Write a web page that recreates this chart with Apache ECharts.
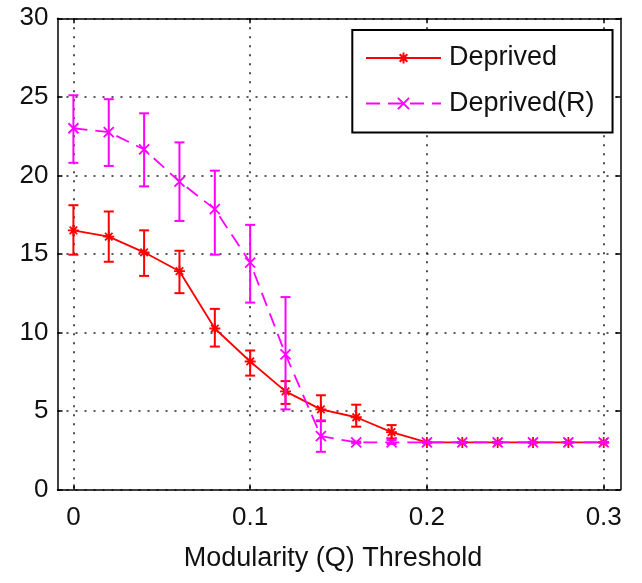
<!DOCTYPE html>
<html><head><meta charset="utf-8">
<script src="https://cdn.jsdelivr.net/npm/echarts@6/dist/echarts.min.js"></script>
<style>html,body{margin:0;padding:0;background:#fff}#c{width:642px;height:583px}</style>
</head><body><div id="c"></div>
<script>
const xValues = [0, 0.02, 0.04, 0.06, 0.08, 0.10, 0.12, 0.14, 0.16, 0.18, 0.20, 0.22, 0.24, 0.26, 0.28, 0.30];
const deprived = [16.5, 16.1, 15.1, 13.9, 10.25, 8.15, 6.25, 5.1, 4.6, 3.65, 3, 3, 3, 3, 3, 3];
const deprivedLow = [14.95, 14.5, 13.6, 12.5, 9.1, 7.25, 5.45, 4.35, 4.0, 3.25, 3, 3, 3, 3, 3, 3];
const deprivedHigh = [18.1, 17.7, 16.5, 15.2, 11.5, 8.85, 6.9, 6.0, 5.4, 4.1, 3, 3, 3, 3, 3, 3];
const deprivedR = [23.0, 22.75, 21.65, 19.6, 17.85, 14.45, 8.6, 3.4, 3.0, 3.0, 3, 3, 3, 3, 3, 3];
const deprivedRLow = [20.8, 20.6, 19.3, 17.1, 14.95, 11.9, 5.1, 2.4, 2.95, 2.9, 3, 3, 3, 3, 3, 3];
const deprivedRHigh = [25.1, 24.85, 23.95, 22.1, 20.3, 16.85, 12.25, 4.4, 3.05, 3.15, 3, 3, 3, 3, 3, 3];
const xTicks = [0, 0.1, 0.2, 0.3];
const xTickLabels = ['0', '0.1', '0.2', '0.3'];
const seriesNames = ['Deprived', 'Deprived(R)'];
const xAxisTitle = 'Modularity (Q) Threshold';

const FONT = 'Liberation Sans';
const RED = '#ff0000', MAG = '#ff00ff';
const ASTER = 'path://M5,0L5,10M0,5L10,5M1.6,1.6L8.4,8.4M1.6,8.4L8.4,1.6';
const CROSS = 'path://M0,0L10,10M0,10L10,0';

function pairs(ys) { return xValues.map((x, i) => [x, ys[i]]); }
function errData(lo, hi) { return xValues.map((x, i) => [x, lo[i], hi[i]]); }
function errRender(color) {
  return function (params, api) {
    const x = api.value(0);
    const top = api.coord([x, api.value(2)]);
    const bot = api.coord([x, api.value(1)]);
    const w = 5;
    const st = { stroke: color, lineWidth: 2, fill: 'none' };
    return { type: 'group', children: [
      { type: 'line', shape: { x1: top[0], y1: top[1], x2: bot[0], y2: bot[1] }, style: st },
      { type: 'line', shape: { x1: top[0] - w, y1: top[1], x2: top[0] + w, y2: top[1] }, style: st },
      { type: 'line', shape: { x1: bot[0] - w, y1: bot[1], x2: bot[0] + w, y2: bot[1] }, style: st }
    ]};
  };
}
function xLabel(v) {
  const i = xTicks.findIndex(t => Math.abs(t - v) < 1e-9);
  return i >= 0 ? xTickLabels[i] : '';
}

const gridLine = { show: true, lineStyle: { color: '#222', width: 1.6, type: [2, 7] } };
const chart = echarts.init(document.getElementById('c'), null, { renderer: 'canvas' });
chart.setOption({
  animation: false,
  textStyle: { fontFamily: FONT },
  grid: { left: 57.5, right: 21.5, top: 18.3, bottom: 93.5, containLabel: false },
  legend: {
    orient: 'vertical', left: 352.3, top: 30,
    padding: [14.5, 18, 15.5, 12.7], itemGap: 18.5, itemWidth: 75, itemHeight: 14,
    borderColor: '#000', borderWidth: 2, backgroundColor: '#fff',
    textStyle: { fontFamily: FONT, fontSize: 27, color: '#111', padding: [0, 0, 0, 3] },
    data: seriesNames
  },
  xAxis: [{
    type: 'value', min: -0.009, max: 0.3095, position: 'bottom',
    name: xAxisTitle, nameLocation: 'middle', nameGap: 56,
    nameTextStyle: { fontFamily: FONT, fontSize: 27, color: '#111', padding: [0, 12, 0, 0] },
    axisLine: { show: true, onZero: false, lineStyle: { color: '#000', width: 1.5 } },
    axisTick: { show: true, inside: true, length: 5, customValues: xTicks, lineStyle: { color: '#000', width: 1.5 } },
    axisLabel: { customValues: xTicks, margin: 15.5, fontSize: 26, color: '#111', fontFamily: FONT, formatter: xLabel },
    splitLine: gridLine
  }, {
    type: 'value', min: -0.009, max: 0.3095, position: 'top',
    axisLine: { show: true, onZero: false, lineStyle: { color: '#000', width: 1.5 } },
    axisTick: { show: true, inside: true, length: 5, customValues: xTicks, lineStyle: { color: '#000', width: 1.5 } },
    axisLabel: { show: false }, splitLine: { show: false }
  }],
  yAxis: [{
    type: 'value', min: 0, max: 30, interval: 5, position: 'left',
    axisLine: { show: true, onZero: false, lineStyle: { color: '#000', width: 1.5 } },
    axisTick: { show: true, inside: true, length: 5, lineStyle: { color: '#000', width: 1.5 } },
    axisLabel: { margin: 9, fontSize: 26, color: '#111', fontFamily: FONT },
    splitLine: gridLine
  }, {
    type: 'value', min: 0, max: 30, interval: 5, position: 'right',
    axisLine: { show: true, onZero: false, lineStyle: { color: '#000', width: 1.5 } },
    axisTick: { show: true, inside: true, length: 5, lineStyle: { color: '#000', width: 1.5 } },
    axisLabel: { show: false }, splitLine: { show: false }
  }],
  series: [
    { type: 'custom', name: 'errD', renderItem: errRender(RED), data: errData(deprivedLow, deprivedHigh), encode: { x: 0, y: [1, 2] }, z: 3, silent: true },
    { type: 'line', name: seriesNames[0], data: pairs(deprived), symbol: ASTER, symbolSize: 11, showAllSymbol: true,
      lineStyle: { color: RED, width: 1.8 }, itemStyle: { color: 'none', borderColor: RED, borderWidth: 1.8 }, z: 4 },
    { type: 'custom', name: 'errR', renderItem: errRender(MAG), data: errData(deprivedRLow, deprivedRHigh), encode: { x: 0, y: [1, 2] }, z: 5, silent: true },
    { type: 'line', name: seriesNames[1], data: pairs(deprivedR), symbol: CROSS, symbolSize: 10, showAllSymbol: true,
      lineStyle: { color: MAG, width: 1.8, type: [14, 8] }, itemStyle: { color: 'none', borderColor: MAG, borderWidth: 1.8 }, z: 6 }
  ]
});
</script></body></html>
